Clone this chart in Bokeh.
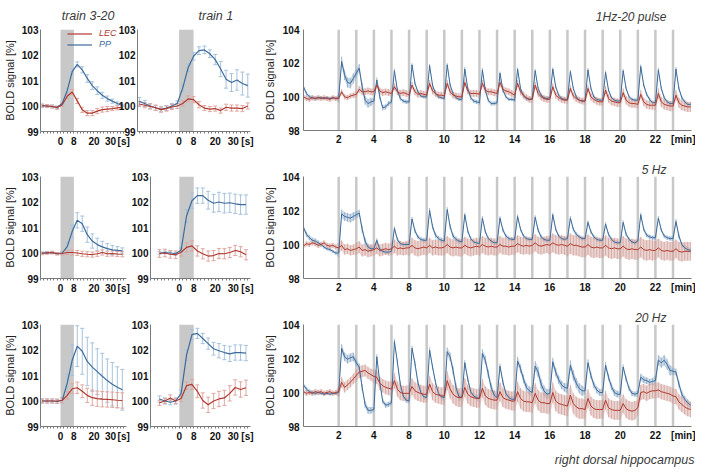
import numpy as np
from bokeh.plotting import figure
from bokeh.layouts import row, column
from bokeh.models import (ColumnDataSource, Whisker, TeeHead, BoxAnnotation, Legend,
                          LegendItem, FixedTicker, Title, Range1d)
from bokeh.core.properties import value
from bokeh.embed import file_html
from bokeh.resources import INLINE

# ---------------- data: single-train panels (time in s) ----------------
T_SHORT = [-11, -8, -5, -2, 1, 4, 7, 10, 13, 16, 19, 22, 25, 28, 31, 34, 37]
T_LONG = [-22, -19, -16, -13, -10, -7, -4, -1, 2, 5, 8, 11, 14, 17, 20, 23, 26, 29, 32, 35, 38]
STIM_S = [0, 8]
L_XTICKS = [0, 8, 20, 30, 37.8]
L_XLABELS = ["0", "8", "20", "30", "[s]"]
L_YTICKS = [99, 100, 101, 102, 103]
L_TITLES = ["train 3-20", "train 1"]

L1_PP = [100.0, 100.0, 99.98, 99.95, 100.1, 100.6, 101.35, 101.63, 101.42, 101.08, 100.8, 100.6, 100.42, 100.29, 100.19, 100.1, 100.02]
L1_PP_ERR = [0.05, 0.05, 0.05, 0.05, 0.05, 0.08, 0.1, 0.1, 0.12, 0.15, 0.15, 0.15, 0.12, 0.1, 0.08, 0.06, 0.05]
L1_LEC = [100.02, 100.0, 99.98, 99.93, 100.05, 100.38, 100.55, 100.2, 99.85, 99.72, 99.72, 99.8, 99.86, 99.88, 99.9, 99.93, 99.95]
L1_LEC_ERR = [0.06, 0.06, 0.06, 0.06, 0.06, 0.08, 0.1, 0.1, 0.1, 0.1, 0.1, 0.1, 0.1, 0.1, 0.08, 0.08, 0.08]

L2_PP = [100.18, 100.1, 100.0, 99.93, 99.87, 99.92, 100.0, 100.1, 100.7, 101.5, 101.95, 102.17, 102.2, 102.05, 101.82, 101.45, 101.05, 100.92, 101.02, 100.88, 100.8]
L2_PP_ERR = [0.15, 0.12, 0.1, 0.1, 0.1, 0.1, 0.1, 0.1, 0.12, 0.15, 0.15, 0.15, 0.15, 0.15, 0.2, 0.3, 0.35, 0.35, 0.4, 0.45, 0.45]
L2_LEC = [100.08, 100.03, 99.98, 99.93, 99.86, 99.9, 99.96, 100.0, 100.1, 100.28, 100.25, 100.05, 99.92, 99.88, 99.9, 99.82, 99.95, 99.92, 99.92, 99.9, 100.0]
L2_LEC_ERR = [0.1, 0.1, 0.1, 0.1, 0.1, 0.1, 0.1, 0.1, 0.1, 0.12, 0.12, 0.12, 0.1, 0.1, 0.1, 0.1, 0.12, 0.12, 0.12, 0.12, 0.12]

L3_PP = [100.0, 100.02, 100.01, 99.98, 100.0, 100.25, 100.85, 101.28, 101.15, 100.72, 100.47, 100.33, 100.24, 100.17, 100.12, 100.1, 100.08]
L3_PP_ERR = [0.04, 0.04, 0.04, 0.04, 0.05, 0.15, 0.25, 0.3, 0.3, 0.3, 0.28, 0.25, 0.22, 0.2, 0.18, 0.15, 0.12]
L3_LEC = [99.98, 100.0, 100.02, 99.97, 99.98, 100.02, 100.02, 100.0, 99.97, 99.95, 99.94, 99.97, 100.02, 99.97, 99.98, 99.96, 99.95]
L3_LEC_ERR = [0.05, 0.05, 0.05, 0.05, 0.06, 0.08, 0.1, 0.1, 0.1, 0.1, 0.1, 0.1, 0.1, 0.1, 0.1, 0.1, 0.1]

L4_PP = [100.0, 100.02, 100.0, 99.97, 100.12, 101.45, 102.05, 102.25, 102.25, 102.07, 101.95, 102.0, 101.95, 101.97, 101.93, 101.9, 101.9]
L4_PP_ERR = [0.05, 0.05, 0.05, 0.05, 0.08, 0.25, 0.3, 0.3, 0.3, 0.35, 0.35, 0.38, 0.38, 0.38, 0.38, 0.38, 0.38]
L4_LEC = [99.98, 100.0, 99.95, 99.93, 100.03, 100.22, 100.28, 100.08, 99.97, 99.88, 99.9, 99.98, 99.97, 100.02, 100.1, 100.05, 99.93]
L4_LEC_ERR = [0.15, 0.15, 0.15, 0.15, 0.15, 0.18, 0.2, 0.2, 0.2, 0.2, 0.2, 0.2, 0.2, 0.2, 0.2, 0.2, 0.2]

L5_PP = [100.0, 100.0, 100.0, 99.98, 100.02, 100.7, 101.6, 102.15, 101.95, 101.55, 101.33, 101.15, 100.97, 100.8, 100.66, 100.54, 100.44]
L5_PP_ERR = [0.08, 0.08, 0.08, 0.08, 0.1, 0.35, 0.6, 0.8, 0.9, 0.95, 0.95, 0.9, 0.9, 0.85, 0.85, 0.8, 0.8]
L5_LEC = [100.0, 100.0, 100.0, 100.0, 100.03, 100.22, 100.48, 100.52, 100.38, 100.22, 100.13, 100.09, 100.07, 100.06, 100.05, 100.03, 100.02]
L5_LEC_ERR = [0.08, 0.08, 0.08, 0.08, 0.1, 0.15, 0.2, 0.22, 0.25, 0.28, 0.3, 0.3, 0.3, 0.3, 0.3, 0.3, 0.3]

L6_PP = [100.08, 100.0, 99.95, 100.0, 100.3, 101.8, 102.6, 102.65, 102.45, 102.25, 102.05, 101.97, 101.9, 101.85, 101.9, 101.9, 101.88]
L6_PP_ERR = [0.12, 0.12, 0.1, 0.1, 0.12, 0.2, 0.2, 0.2, 0.2, 0.22, 0.25, 0.28, 0.28, 0.3, 0.3, 0.3, 0.3]
L6_LEC = [99.93, 100.0, 100.12, 100.0, 100.1, 100.6, 100.65, 100.38, 100.02, 99.85, 100.0, 100.08, 100.12, 100.3, 100.53, 100.45, 100.52]
L6_LEC_ERR = [0.1, 0.1, 0.12, 0.12, 0.12, 0.15, 0.2, 0.25, 0.3, 0.3, 0.3, 0.3, 0.3, 0.3, 0.3, 0.3, 0.3]

# ---------------- data: long runs (time in min, 6 samples per minute) ----------------
SAMPLES_PER_MIN = 6
R_BARS = [2, 3, 4, 5, 6, 7, 8, 9, 10, 11, 12, 13, 14, 15, 16, 17, 18, 19, 20, 21]
R_XTICKS = [2, 4, 6, 8, 10, 12, 14, 16, 18, 20, 21.7]
R_XLABELS = ["2", "4", "8", "10", "12", "14", "16", "18", "20", "22", "[min]"]
R_YTICKS = [98, 100, 102, 104]
R_TITLES = ["1Hz-20 pulse", "5 Hz", "20 Hz"]
CAPTION = "right dorsal hippocampus"

R1_PP = [
    100.6, 100.2, 100.0, 99.95, 99.9, 99.95,
    99.95, 99.9, 99.95, 99.9, 99.95, 99.9,
    99.95, 102.1, 101.3, 100.85, 100.8, 101.1,
    101.4, 101.7, 100.6, 99.8, 99.6, 99.7,
    99.75, 101.0, 100.0, 99.35, 99.4, 99.6,
    99.7, 101.55, 100.4, 99.9, 99.75, 99.7,
    99.7, 101.9, 100.8, 100.3, 100.05, 100.0,
    100.0, 101.85, 100.7, 100.2, 100.0, 99.95,
    99.9, 101.9, 100.7, 100.2, 99.95, 99.85,
    99.85, 101.65, 100.5, 99.95, 99.75, 99.7,
    99.65, 101.6, 100.4, 99.8, 99.6, 99.6,
    99.65, 101.4, 100.4, 100.0, 99.85, 99.85,
    99.8, 101.65, 100.5, 100.05, 99.9, 99.85,
    99.9, 101.55, 100.5, 100.1, 99.95, 99.9,
    99.95, 101.65, 100.6, 100.1, 99.9, 99.85,
    99.85, 101.5, 100.5, 100.0, 99.8, 99.75,
    99.75, 101.6, 100.5, 100.0, 99.85, 99.8,
    99.8, 101.45, 100.4, 99.95, 99.8, 99.75,
    99.75, 101.55, 100.5, 100.0, 99.85, 99.8,
    99.8, 101.8, 100.7, 100.15, 99.85, 99.65,
    99.65, 101.6, 100.5, 99.95, 99.7, 99.6,
    99.6, 101.65, 100.5, 99.95, 99.7, 99.55,
    99.55]
R1_PP_ERR = [0.12, 0.08, 0.3, 0.25, 0.15, 0.12, 0.1, 0.1, 0.1, 0.12, 0.12, 0.1, 0.1, 0.1, 0.1, 0.1, 0.1, 0.1, 0.1, 0.12, 0.12, 0.12]
R1_LEC = [
    100.0, 99.9, 99.85, 99.95, 99.9, 99.95,
    99.9, 99.95, 99.9, 99.85, 99.95, 99.9,
    99.9, 100.3, 100.0, 99.95, 100.05, 100.1,
    100.15, 100.45, 100.3, 100.3, 100.35, 100.3,
    100.3, 100.7, 100.35, 100.25, 100.3, 100.25,
    100.2, 100.6, 100.3, 100.2, 100.25, 100.2,
    100.1, 100.7, 100.3, 100.15, 100.2, 100.15,
    100.1, 100.8, 100.35, 100.2, 100.1, 100.1,
    100.05, 100.8, 100.3, 100.1, 100.05, 100.0,
    100.0, 100.85, 100.35, 100.2, 100.2, 100.2,
    100.15, 100.8, 100.4, 100.3, 100.3, 100.25,
    100.2, 100.85, 100.45, 100.35, 100.3, 100.2,
    100.1, 100.8, 100.3, 100.1, 99.95, 99.85,
    99.85, 100.7, 100.2, 100.0, 99.9, 99.85,
    99.85, 100.6, 100.1, 99.95, 99.85, 99.8,
    99.8, 100.5, 100.05, 99.9, 99.8, 99.75,
    99.75, 100.5, 100.0, 99.85, 99.75, 99.7,
    99.7, 100.4, 99.9, 99.75, 99.7, 99.65,
    99.65, 100.25, 99.8, 99.65, 99.6, 99.6,
    99.55, 100.15, 99.7, 99.55, 99.5, 99.5,
    99.5, 100.2, 99.7, 99.55, 99.5, 99.45,
    99.45, 100.1, 99.65, 99.5, 99.45, 99.4,
    99.4]
R1_LEC_ERR = [0.15, 0.15, 0.15, 0.2, 0.2, 0.2, 0.2, 0.2, 0.2, 0.2, 0.2, 0.2, 0.2, 0.2, 0.2, 0.2, 0.22, 0.25, 0.25, 0.25, 0.3, 0.3]

R2_PP = [
    101.0, 100.6, 100.4, 100.25, 100.2, 100.1,
    100.0, 99.85, 99.75, 99.7, 99.6, 99.5,
    99.5, 101.8, 101.65, 101.6, 101.55, 101.65,
    101.75, 101.85, 100.9, 100.2, 99.85, 99.75,
    99.75, 100.25, 99.7, 99.6, 99.55, 99.55,
    99.6, 100.95, 100.3, 100.05, 100.0, 100.0,
    100.0, 101.5, 100.8, 100.45, 100.3, 100.25,
    100.25, 102.0, 101.05, 100.55, 100.35, 100.25,
    100.2, 102.05, 101.05, 100.5, 100.3, 100.2,
    100.15, 101.75, 100.8, 100.35, 100.15, 100.1,
    100.05, 101.55, 100.75, 100.35, 100.2, 100.1,
    100.1, 101.55, 100.85, 100.5, 100.35, 100.3,
    100.3, 101.65, 100.9, 100.5, 100.35, 100.3,
    100.3, 101.6, 100.85, 100.45, 100.3, 100.25,
    100.25, 101.75, 100.9, 100.5, 100.35, 100.3,
    100.35, 101.55, 100.9, 100.6, 100.45, 100.35,
    100.35, 101.3, 100.75, 100.45, 100.3, 100.25,
    100.25, 101.2, 100.6, 100.3, 100.15, 100.1,
    100.1, 101.3, 100.6, 100.3, 100.15, 100.1,
    100.2, 101.75, 100.9, 100.55, 100.45, 100.4,
    100.4, 101.55, 100.85, 100.5, 100.4, 100.35,
    100.35, 101.35, 100.5, 100.0, 99.8, 99.7,
    99.65]
R2_PP_ERR = [0.15, 0.1, 0.25, 0.2, 0.12, 0.12, 0.12, 0.15, 0.15, 0.12, 0.12, 0.12, 0.12, 0.12, 0.12, 0.12, 0.12, 0.12, 0.12, 0.12, 0.12, 0.15]
R2_LEC = [
    99.9, 100.05, 100.0, 100.1, 100.05, 99.95,
    100.0, 100.1, 99.95, 99.9, 99.95, 99.85,
    99.8, 99.95, 99.7, 99.75, 99.65, 99.7,
    99.75, 99.85, 99.65, 99.7, 99.6, 99.65,
    99.7, 99.8, 99.65, 99.7, 99.75, 99.7,
    99.75, 99.9, 99.75, 99.8, 99.75, 99.8,
    99.8, 99.95, 99.8, 99.75, 99.8, 99.85,
    99.8, 99.95, 99.8, 99.85, 99.8, 99.8,
    99.85, 100.0, 99.85, 99.8, 99.85, 99.8,
    99.8, 99.95, 99.85, 99.8, 99.85, 99.9,
    99.85, 100.0, 99.9, 99.85, 99.9, 99.85,
    99.85, 100.0, 99.9, 99.9, 99.85, 99.9,
    99.9, 100.05, 99.95, 99.9, 99.95, 99.9,
    99.95, 100.1, 99.95, 99.9, 99.95, 100.0,
    99.95, 100.1, 100.0, 99.95, 100.0, 99.95,
    99.9, 100.05, 99.95, 99.95, 99.9, 99.85,
    99.85, 100.0, 99.85, 99.8, 99.85, 99.8,
    99.8, 99.95, 99.8, 99.75, 99.8, 99.75,
    99.75, 99.9, 99.75, 99.7, 99.75, 99.7,
    99.7, 99.85, 99.7, 99.65, 99.7, 99.65,
    99.65, 99.8, 99.65, 99.6, 99.65, 99.6,
    99.6, 99.75, 99.6, 99.55, 99.6, 99.6,
    99.6]
R2_LEC_ERR = [0.15, 0.15, 0.3, 0.35, 0.35, 0.4, 0.45, 0.45, 0.5, 0.5, 0.5, 0.5, 0.5, 0.5, 0.55, 0.6, 0.6, 0.6, 0.6, 0.6, 0.55, 0.55]

R3_PP = [
    100.45, 100.2, 100.05, 100.0, 99.95, 100.0,
    99.95, 99.9, 99.95, 99.9, 99.95, 99.95,
    100.0, 102.6, 102.1, 101.95, 102.05, 102.1,
    101.75, 101.5, 100.3, 99.3, 98.95, 98.95,
    99.0, 102.1, 100.6, 99.5, 99.25, 99.3,
    99.4, 103.0, 101.8, 100.5, 99.8, 99.55,
    99.5, 102.6, 101.7, 100.6, 100.0, 99.75,
    99.7, 102.5, 101.5, 100.6, 99.95, 99.75,
    99.7, 102.4, 102.1, 101.3, 100.3, 99.75,
    99.7, 101.75, 100.8, 100.05, 99.8, 99.7,
    99.65, 102.3, 101.9, 101.1, 100.3, 99.85,
    99.7, 101.55, 100.6, 99.95, 99.7, 99.6,
    99.6, 101.85, 101.4, 100.8, 100.3, 100.1,
    100.0, 101.55, 101.2, 100.5, 100.1, 99.9,
    99.95, 101.8, 101.2, 100.75, 100.45, 100.3,
    100.25, 101.6, 101.0, 100.55, 100.25, 100.1,
    100.1, 101.75, 101.0, 100.45, 100.15, 100.0,
    100.0, 101.6, 100.9, 100.35, 100.0, 99.9,
    99.9, 101.5, 100.8, 100.25, 99.95, 99.9,
    99.95, 100.9, 100.75, 100.7, 100.6, 100.65,
    100.7, 101.9, 101.75, 101.9, 101.65, 101.3,
    101.25, 101.2, 100.5, 99.9, 99.6, 99.4,
    99.25]
R3_PP_ERR = [0.12, 0.08, 0.25, 0.2, 0.15, 0.15, 0.15, 0.15, 0.25, 0.15, 0.25, 0.15, 0.25, 0.3, 0.25, 0.3, 0.2, 0.2, 0.15, 0.2, 0.3, 0.2]
R3_LEC = [
    100.05, 99.95, 100.0, 99.95, 100.05, 100.0,
    100.05, 99.95, 100.0, 100.05, 99.95, 100.0,
    100.05, 100.6, 100.3, 100.45, 100.6, 100.8,
    101.0, 101.2, 101.25, 101.3, 101.15, 101.05,
    100.95, 100.9, 100.55, 100.4, 100.3, 100.25,
    100.2, 100.7, 100.2, 100.0, 99.95, 99.95,
    99.95, 100.35, 100.1, 100.0, 99.95, 99.9,
    99.9, 100.5, 100.05, 99.9, 99.85, 99.8,
    99.8, 100.7, 100.2, 99.9, 99.75, 99.7,
    99.7, 100.3, 99.9, 99.75, 99.7, 99.65,
    99.65, 100.25, 99.8, 99.65, 99.6, 99.55,
    99.55, 100.05, 99.7, 99.6, 99.55, 99.5,
    99.5, 100.05, 99.65, 99.5, 99.45, 99.45,
    99.4, 99.95, 99.55, 99.4, 99.4, 99.35,
    99.35, 100.0, 99.5, 99.35, 99.3, 99.25,
    99.2, 99.85, 99.35, 99.15, 99.05, 99.05,
    99.0, 99.65, 99.2, 99.05, 99.0, 99.0,
    99.0, 99.55, 99.1, 99.0, 98.95, 98.95,
    98.95, 99.35, 99.05, 98.95, 98.9, 98.95,
    99.1, 100.0, 100.05, 99.95, 100.05, 100.1,
    100.1, 100.15, 100.05, 100.0, 99.95, 99.9,
    99.8, 99.75, 99.45, 99.3, 99.15, 99.05,
    99.0]
R3_LEC_ERR = [0.15, 0.15, 0.3, 0.35, 0.4, 0.45, 0.5, 0.5, 0.55, 0.55, 0.55, 0.55, 0.6, 0.6, 0.6, 0.6, 0.55, 0.55, 0.55, 0.45, 0.45, 0.45]

# ---------------- styles ----------------
FONT = "Liberation Sans"
BLUE = "#3d6c9c"
RED = "#b0392f"
BLUE_LT = "#a6c2dc"
RED_LT = "#e0a7a0"
BLUE_BAND = "#8eabc8"
RED_BAND = "#d3a19b"
GRAY = "#c8c8c8"
AXIS = "#7a7a7a"
TITLE_COLOR = "#3a3a3a"


def base_fig(fw, fh, xr, yr, mbl, mbr, mbt, mbb, margin=None):
    kw = {}
    if margin is not None:
        kw["margin"] = margin
    p = figure(frame_width=fw, frame_height=fh, x_range=Range1d(*xr), y_range=Range1d(*yr),
               min_border_left=mbl, min_border_right=mbr, min_border_top=mbt, min_border_bottom=mbb,
               output_backend="svg", toolbar_location=None, title=None, **kw)
    p.xgrid.visible = False
    p.ygrid.visible = False
    p.outline_line_color = None
    p.border_fill_alpha = 0
    p.background_fill_color = "white"
    for ax in p.axis:
        ax.axis_line_color = AXIS
        ax.axis_line_width = 1
        ax.major_tick_out = 0
        ax.major_tick_in = 0
        ax.minor_tick_out = 0
        ax.minor_tick_in = 0
        ax.major_label_text_font = FONT
        ax.major_label_text_font_style = "bold"
        ax.major_label_text_font_size = "10px"
        ax.major_label_text_color = "#111111"
        ax.major_label_standoff = 2
        ax.axis_label_text_font = FONT
        ax.axis_label_text_font_style = "normal"
        ax.axis_label_text_font_size = "11px"
        ax.axis_label_text_color = "#222222"
        ax.axis_label_standoff = 3
    return p


def add_title(p, text, side, align, offset, standoff, valign, size):
    p.add_layout(Title(text=text, align=align, offset=offset, standoff=standoff, vertical_align=valign,
                       text_font=FONT, text_font_style="italic", text_font_size=size,
                       text_color=TITLE_COLOR), side)


def left_panel(t, pp, pp_err, lec, lec_err, xr, fw, mbl, mbr, mbt, fh, mbb,
               ylabel=False, legend=False, margin=None):
    p = base_fig(fw, fh, xr, (L_YTICKS[0], L_YTICKS[-1]), mbl, mbr, mbt, mbb, margin)
    p.add_layout(BoxAnnotation(left=STIM_S[0], right=STIM_S[1], fill_color=GRAY, fill_alpha=1,
                               line_color=None, level="underlay"))
    p.yaxis.ticker = FixedTicker(ticks=L_YTICKS)
    p.xaxis.ticker = FixedTicker(ticks=L_XTICKS, minor_ticks=list(range(-22, 40, 2)))
    p.xaxis.major_label_overrides = {k: v for k, v in zip(L_XTICKS, L_XLABELS)}
    p.xaxis.minor_tick_out = 2
    p.xaxis.minor_tick_line_color = AXIS
    if ylabel:
        p.yaxis.axis_label = "BOLD signal [%]"
    srcs = {}
    for name, vals, errs, c, clt in [("PP", pp, pp_err, BLUE, BLUE_LT), ("LEC", lec, lec_err, RED, RED_LT)]:
        v = np.array(vals)
        e = np.array(errs)
        src = ColumnDataSource(dict(t=t, y=v, lo=v - e, hi=v + e))
        p.add_layout(Whisker(source=src, base="t", upper="hi", lower="lo", line_color=clt, line_width=1,
                             upper_head=TeeHead(size=4, line_color=clt, line_width=1),
                             lower_head=TeeHead(size=4, line_color=clt, line_width=1)))
        srcs[name] = src
    lines = {}
    for name, c in [("PP", BLUE), ("LEC", RED)]:
        lines[name] = p.line("t", "y", source=srcs[name], line_color=c, line_width=1.2)
    if legend:
        for name, c, loc in [("LEC", RED, (27, 93)), ("PP", BLUE, (27, 82))]:
            lg = Legend(items=[LegendItem(label=value(name), renderers=[lines[name]])], location=loc,
                        padding=0, margin=0, spacing=0, glyph_width=25, glyph_height=9, label_height=9,
                        label_standoff=7, label_text_font=FONT, label_text_font_style="italic",
                        label_text_font_size="9px", label_text_color=c, border_line_alpha=0,
                        background_fill_alpha=0)
            p.add_layout(lg)
    return p


def right_panel(pp, pp_err, lec, lec_err, mbt, fh, mbb):
    p = base_fig(388, fh, (0, 22.05), (R_YTICKS[0], R_YTICKS[-1]), 49, 4, mbt, mbb)
    p.yaxis.ticker = FixedTicker(ticks=R_YTICKS)
    p.xaxis.ticker = FixedTicker(ticks=R_XTICKS)
    p.xaxis.major_label_overrides = {k: v for k, v in zip(R_XTICKS, R_XLABELS)}
    p.yaxis.axis_label = "BOLD signal [%]"
    p.yaxis.major_label_standoff = 4
    p.yaxis.axis_label_standoff = 4
    p.xaxis.major_label_standoff = 3
    nb = len(R_BARS)
    p.segment(x0=R_BARS, x1=R_BARS, y0=[R_YTICKS[0]] * nb, y1=[R_YTICKS[-1]] * nb,
              line_color=GRAY, line_width=2.5)
    series = []
    for vals, errs, c, cb in [(pp, pp_err, BLUE, BLUE_BAND), (lec, lec_err, RED, RED_BAND)]:
        v = np.array(vals)
        n = len(v)
        t = np.arange(n) / SAMPLES_PER_MIN
        e = np.array(errs)[np.minimum(np.arange(n) // SAMPLES_PER_MIN, len(errs) - 1)]
        p.varea(x=t, y1=v - e, y2=v + e, fill_color=cb, fill_alpha=0.45)
        p.segment(x0=t, y0=v - e, x1=t, y1=v + e, line_color=cb, line_width=1, line_alpha=0.8)
        series.append((t, v, c))
    for t, v, c in series:
        p.line(t, v, line_color=c, line_width=1.0)
    return p


# row 1
L1 = left_panel(T_SHORT, L1_PP, L1_PP_ERR, L1_LEC, L1_LEC_ERR, (-12, 39.5), 86, 36, 6, 29, 102, 27,
                ylabel=True, legend=True)
add_title(L1, L_TITLES[0], "above", "right", 12, 10, "top", "12.5px")
L2 = left_panel(T_LONG, L2_PP, L2_PP_ERR, L2_LEC, L2_LEC_ERR, (-23, 39.5), 113, 20, 4, 29, 102, 27,
                margin=(0, 0, 0, -17))
add_title(L2, L_TITLES[1], "above", "left", 61, 10, "top", "12.5px")
R1 = right_panel(R1_PP, R1_PP_ERR, R1_LEC, R1_LEC_ERR, 29, 101, 28)
add_title(R1, R_TITLES[0], "above", "right", 25, 11, "bottom", "12px")
# row 2
L3 = left_panel(T_SHORT, L3_PP, L3_PP_ERR, L3_LEC, L3_LEC_ERR, (-12, 39.5), 86, 36, 6, 18, 102, 26, ylabel=True)
L4 = left_panel(T_SHORT, L4_PP, L4_PP_ERR, L4_LEC, L4_LEC_ERR, (-16, 39.5), 100, 20, 4, 18, 102, 26,
                margin=(0, 0, 0, -4))
R2 = right_panel(R2_PP, R2_PP_ERR, R2_LEC, R2_LEC_ERR, 18, 102, 26)
add_title(R2, R_TITLES[1], "above", "right", 25, 0, "bottom", "12px")
# row 3
L5 = left_panel(T_SHORT, L5_PP, L5_PP_ERR, L5_LEC, L5_LEC_ERR, (-12, 39.5), 86, 36, 6, 20, 102, 45, ylabel=True)
L6 = left_panel(T_SHORT, L6_PP, L6_PP_ERR, L6_LEC, L6_LEC_ERR, (-16, 39.5), 100, 20, 4, 20, 102, 45,
                margin=(0, 0, 0, -4))
R3 = right_panel(R3_PP, R3_PP_ERR, R3_LEC, R3_LEC_ERR, 20, 102, 45)
add_title(R3, R_TITLES[2], "above", "right", 25, 0, "bottom", "12px")
add_title(R3, CAPTION, "below", "right", -3, 14, "bottom", "12.5px")

page = column(row(L1, L2, R1), row(L3, L4, R2), row(L5, L6, R3))

with open("out.html", "w") as f:
    f.write(file_html(page, INLINE))
